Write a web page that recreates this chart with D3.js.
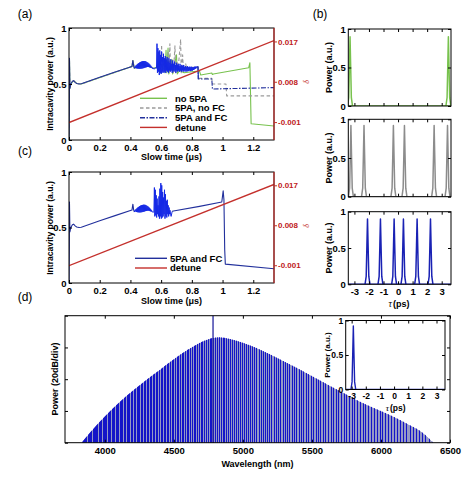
<!DOCTYPE html>
<html><head><meta charset="utf-8">
<script src="https://cdn.jsdelivr.net/npm/d3@7"></script>
<style>body{margin:0;background:#fff}</style>
</head><body><svg id="c" width="474" height="484"></svg>
<script>
// ---------------- data ----------------
const timeTicks=[0,0.2,0.4,0.6,0.8,1,1.2];
const powerTicks=[0,0.5,1];
const detuneTicks=[-0.001,0.008,0.017];
const detune=[[0,-0.0011],[1.335,0.0172]];
const legendA=["no 5PA","5PA, no FC","5PA and FC","detune"];
const legendC=["5PA and FC","detune"];

const fcEarly=[[0,0],[0.002,0.35],[0.003,0.73],[0.006,0.46],[0.012,0.5],[0.022,0.525],[0.03,0.53],[0.04,0.515],[0.05,0.505],[0.065,0.5],[0.08,0.502],[0.2,0.56],[0.3,0.607],[0.41,0.657],[0.416,0.71],[0.421,0.66],[0.426,0.64]];
const fcFish=[[0.430,0.655],[0.433,0.645],[0.436,0.665],[0.439,0.64],[0.442,0.672],[0.445,0.638],[0.448,0.68],[0.451,0.637],[0.454,0.686],[0.457,0.636],[0.460,0.692],[0.463,0.636],[0.466,0.697],[0.469,0.637],[0.472,0.70],[0.475,0.638],[0.478,0.703],[0.481,0.64],[0.484,0.705],[0.487,0.642],[0.490,0.705],[0.493,0.645],[0.496,0.704],[0.499,0.648],[0.502,0.70],[0.505,0.65],[0.508,0.695],[0.511,0.652],[0.514,0.69],[0.517,0.652],[0.520,0.683],[0.523,0.65],[0.526,0.675],[0.529,0.647],[0.532,0.665],[0.535,0.643],[0.538,0.655],[0.542,0.64],[0.548,0.638],[0.555,0.635],[0.562,0.64],[0.567,0.645]];
const fcChaosA=[[0.570,0.64],[0.573,0.86],[0.576,0.60],[0.579,0.82],[0.582,0.61],[0.585,0.79],[0.588,0.58],[0.591,0.80],[0.594,0.60],[0.597,0.76],[0.600,0.59],[0.603,0.79],[0.606,0.60],[0.609,0.74],[0.612,0.61],[0.615,0.77],[0.618,0.60],[0.621,0.73],[0.624,0.61],[0.627,0.75],[0.630,0.60],[0.633,0.72],[0.636,0.62],[0.639,0.74],[0.642,0.61],[0.645,0.70],[0.648,0.60],[0.651,0.73],[0.654,0.62],[0.657,0.69],[0.660,0.61],[0.663,0.72],[0.666,0.62],[0.669,0.68],[0.672,0.60],[0.675,0.71],[0.678,0.62],[0.681,0.68],[0.684,0.61],[0.687,0.70],[0.690,0.62],[0.693,0.67],[0.696,0.60],[0.699,0.69],[0.702,0.62],[0.705,0.67],[0.708,0.61],[0.711,0.68],[0.714,0.62],[0.717,0.66],[0.720,0.61],[0.723,0.68],[0.726,0.62],[0.729,0.66],[0.732,0.61],[0.735,0.67],[0.738,0.62],[0.741,0.66],[0.744,0.61],[0.747,0.67],[0.750,0.62],[0.753,0.65],[0.756,0.61],[0.759,0.66],[0.762,0.62],[0.765,0.65],[0.768,0.61],[0.771,0.66],[0.774,0.62],[0.777,0.65],[0.780,0.615],[0.783,0.655],[0.786,0.62],[0.789,0.65],[0.792,0.615],[0.795,0.655],[0.798,0.62],[0.801,0.65],[0.804,0.62],[0.807,0.65],[0.810,0.625],[0.813,0.65],[0.816,0.63],[0.819,0.655],[0.822,0.635],[0.825,0.655],[0.828,0.64],[0.831,0.655],[0.835,0.65],[0.840,0.655]];
const fcTailA=[[0.842,0.545],[0.93,0.545],[0.934,0.455],[1.335,0.468]];
const fcChaosC=[[0.553,0.64],[0.556,0.86],[0.559,0.60],[0.562,0.84],[0.565,0.61],[0.568,0.79],[0.571,0.59],[0.574,0.76],[0.577,0.62],[0.580,0.70],[0.583,0.60],[0.586,0.78],[0.589,0.58],[0.592,0.85],[0.595,0.60],[0.598,0.90],[0.601,0.58],[0.604,0.88],[0.607,0.59],[0.610,0.82],[0.613,0.60],[0.616,0.77],[0.619,0.62],[0.622,0.84],[0.625,0.58],[0.628,0.80],[0.631,0.60],[0.634,0.74],[0.637,0.59],[0.640,0.75],[0.643,0.62],[0.646,0.70],[0.649,0.60],[0.652,0.68],[0.655,0.62],[0.658,0.655],[0.661,0.62],[0.665,0.60],[0.672,0.645]];
const fcTailC=[[0.68,0.648],[0.85,0.69],[0.995,0.73],[1.004,0.83],[1.009,0.75],[1.014,0.3],[1.018,0.17],[1.335,0.128]];

const noFC=[[0,0],[0.003,0.73],[0.006,0.46],[0.012,0.5],[0.03,0.53],[0.05,0.505],[0.08,0.5],[0.41,0.657],[0.416,0.71],[0.426,0.64],[0.49,0.675],[0.55,0.64],[0.57,0.65],[0.595,0.70],[0.60,0.62],[0.603,0.85],[0.607,0.62],[0.63,0.70],[0.635,0.62],[0.645,0.78],[0.65,0.60],[0.657,0.86],[0.661,0.62],[0.675,0.72],[0.68,0.60],[0.69,0.84],[0.694,0.60],[0.705,0.70],[0.71,0.62],[0.727,0.90],[0.731,0.60],[0.74,0.76],[0.745,0.62],[0.76,0.68],[0.77,0.62],[0.80,0.65],[0.84,0.65],[0.845,0.55],[0.93,0.55],[0.935,0.50],[1.022,0.50],[1.027,0.394],[1.335,0.394]];
const noSPA=[[0,0],[0.003,0.73],[0.006,0.46],[0.012,0.5],[0.03,0.53],[0.05,0.505],[0.08,0.5],[0.41,0.657],[0.416,0.71],[0.426,0.64],[0.49,0.675],[0.55,0.64],[0.57,0.65],[0.60,0.60],[0.62,0.70],[0.625,0.60],[0.632,0.80],[0.637,0.60],[0.645,0.82],[0.65,0.59],[0.67,0.72],[0.675,0.59],[0.70,0.76],[0.705,0.59],[0.72,0.62],[0.75,0.60],[0.80,0.61],[0.85,0.615],[0.858,0.58],[0.93,0.598],[0.934,0.585],[0.94,0.59],[1.17,0.645],[1.178,0.69],[1.186,0.145],[1.335,0.125]];

const tauTicks=[-3,-2,-1,0,1,2,3];
const pulseOffset=[-0.17,-0.09,-0.04,0,0.04,0.09,0.17];
const pulseShape=[0,0.12,0.6,1,0.6,0.12,0];
const pulsesNoSPA=[-3.30,3.46], heightsNoSPA=[0.9,0.9];
const pulsesNoFC=[-3.24,-2.34,-0.32,0.44,2.48,3.40], heightsNoFC=[0.92,0.92,0.92,0.92,0.92,0.92];
const pulsesFC=[-2.10,-1.21,-0.27,0.37,1.31,2.23], heightsFC=[0.9,0.9,0.9,0.9,0.9,0.9];
const pulsesInset=[-2.88], heightsInset=[0.92];

const specTicks=[4000,4500,5000,5500,6000,6500];
const dbTicks=[-80,-60,-40,-20,0];
const specWavelength=[3832,3900,4000,4100,4200,4300,4400,4500,4600,4700,4780,4830,4900,5000,5100,5200,5300,5400,5500,5600,5700,5800,5900,6000,6100,6200,6300,6380];
const specDb=[-80,-73,-63.5,-55,-47.5,-40.5,-34,-27.5,-21.5,-16.5,-14,-13.5,-14.5,-17,-20.3,-24.5,-28.8,-33.3,-38,-42.7,-47.3,-52,-56.2,-60,-64,-68.5,-73.5,-80];
const pumpWavelength=4784;
const combSpacingTHz=0.175;

// ---------------- drawing ----------------
const FONT='"Liberation Sans", Arial, Helvetica, sans-serif';
const svg=d3.select("#c");
let clipN=0;
function clip(x,y){const id="cp"+(clipN++);const [x0,x1]=x.range(),[y0,y1]=y.range();
  svg.append("clipPath").attr("id",id).append("rect").attr("x",x0).attr("y",y1).attr("width",x1-x0).attr("height",y0-y1);
  return "url(#"+id+")";}
function axes(g,x,y,o){
  const [x0,x1]=x.range(),[y0,y1]=y.range(); const fs=o.fs||9.5;
  const f=d=>String(d), none=()=>"";
  g.append("g").attr("transform",`translate(0,${y0})`).call(d3.axisBottom(x).tickValues(o.xt).tickSizeInner(-3).tickSizeOuter(0).tickPadding(o.xpad||4.5).tickFormat(o.xl?f:none));
  g.append("g").attr("transform",`translate(0,${y1})`).call(d3.axisTop(x).tickValues(o.xt).tickSizeInner(-3).tickSizeOuter(0).tickFormat(none));
  g.append("g").attr("transform",`translate(${x0},0)`).call(d3.axisLeft(y).tickValues(o.yt).tickSizeInner(-3).tickSizeOuter(0).tickPadding(2.5).tickFormat(o.yl?f:none));
  if(!o.noRight) g.append("g").attr("transform",`translate(${x1},0)`).call(d3.axisRight(y).tickValues(o.yt).tickSizeInner(-3).tickSizeOuter(0).tickFormat(none));
  g.selectAll(".domain").remove();
  g.selectAll(".tick text").attr("font-family",FONT).attr("font-weight","bold").attr("font-size",fs).attr("fill","#000");
  g.selectAll(".tick line").attr("stroke","#000");
  g.append("rect").attr("x",x0).attr("y",y1).attr("width",x1-x0).attr("height",y0-y1).attr("fill","none").attr("stroke","#000").attr("stroke-width",1);
}
function txt(x,y,s,o={}){
  const t=svg.append("text").attr("x",x).attr("y",y).text(s).attr("font-family",o.family||FONT)
   .attr("font-size",o.fs||9).attr("font-weight",o.w||"bold").attr("fill",o.fill||"#000").attr("text-anchor",o.anchor||"middle");
  if(o.rot) t.attr("transform",`rotate(-90,${x},${y})`);
  if(o.italic) t.attr("font-style","italic");
  return t;}

// ---- time panels (a) and (c)
function timePanel(top,bottom,series,legend,legY,legX0,legX1,legTX){
  const x=d3.scaleLinear([0,1.335],[69,274]);
  const y=d3.scaleLinear([0,1],[bottom,top]);
  const yR=d3.scaleLinear([-0.005,0.02],[bottom,top]);
  const g=svg.append("g");
  const cp=clip(x,y);
  const pg=g.append("g").attr("clip-path",cp);
  const line=d3.line().x(d=>x(d[0])).y(d=>y(d[1]));
  series.forEach(s=>{
    const data=s.range?s.data.filter(d=>d[0]>=s.range[0]&&d[0]<=s.range[1]):s.data;
    pg.append("path").attr("d",line(data)).attr("fill","none").attr("stroke",s.color).attr("stroke-width",s.w||1.1)
      .attr("stroke-dasharray",s.dash||null).attr("stroke-linejoin","round");
  });
  pg.append("path").attr("d",d3.line().x(d=>x(d[0])).y(d=>yR(d[1]))(detune)).attr("fill","none").attr("stroke","#c4302c").attr("stroke-width",1.3);
  axes(g,x,y,{xt:timeTicks,yt:powerTicks,xl:true,yl:true,noRight:true});
  const ra=g.append("g").attr("transform",`translate(274,0)`).call(d3.axisRight(yR).tickValues(detuneTicks).tickSizeInner(3).tickSizeOuter(0).tickPadding(1).tickFormat(d=>d.toFixed(3)));
  ra.select(".domain").remove();
  ra.selectAll(".tick line").attr("stroke","#c4302c");
  ra.selectAll(".tick text").attr("font-family",FONT).attr("font-weight","bold").attr("font-size",8).attr("fill","#c0201c");
  g.append("line").attr("x1",274).attr("x2",274).attr("y1",top).attr("y2",bottom).attr("stroke","#c4302c").attr("stroke-width",1.2);
  legend.forEach((l,i)=>{
    const yy=legY+i*9.7;
    g.append("line").attr("x1",legX0).attr("x2",legX1).attr("y1",yy).attr("y2",yy).attr("stroke",l.color).attr("stroke-width",1.4).attr("stroke-dasharray",l.dash||null);
    g.append("text").attr("x",legTX).attr("y",yy+3.4).text(l.label).attr("font-family",FONT).attr("font-weight","bold").attr("font-size",9.5);
  });
  return {x,y};
}
const NAVY="#22309c", BRIGHT="#1428e6", GREEN="#78c24e", GRAY="#9a9a9a", RED="#c4302c";
const fcA=[...fcEarly,...fcFish,...fcChaosA,...fcTailA];
timePanel(28,140,[
  {data:noSPA,color:GREEN},
  {data:noFC,color:GRAY,dash:"3.5,2.5"},
  {data:fcA,color:NAVY,range:[0,0.426]},
  {data:fcA,color:BRIGHT,range:[0.426,0.842],w:1},
  {data:fcA,color:NAVY,range:[0.835,1.4],dash:"5,1.5,1.5,1.5"}
],[{label:legendA[0],color:GREEN},{label:legendA[1],color:GRAY,dash:"3.5,2.5"},{label:legendA[2],color:NAVY,dash:"5,1.5,1.5,1.5"},{label:legendA[3],color:RED}],98.3,140,167,175);
const fcC=[...fcEarly,...fcFish.filter(d=>d[0]<0.55),...fcChaosC,...fcTailC];
timePanel(172,283,[
  {data:fcC,color:NAVY,range:[0,0.426]},
  {data:fcC,color:BRIGHT,range:[0.426,0.672],w:1},
  {data:fcC,color:NAVY,range:[0.672,1.4]}
],[{label:legendC[0],color:NAVY},{label:legendC[1],color:RED}],258.3,135,167,170);

[[84,160],[228,304]].forEach(([cy,lb])=>{
  txt(53,cy,"Intracavity power (a.u.)",{rot:true,fs:8.6});
  txt(171.5,lb,"Slow time (μs)",{fs:9});
  txt(309,cy-2,"δ",{rot:true,fs:8,w:"normal",fill:RED,italic:true,family:'"Liberation Serif",serif'});
});
txt(25,18,"(a)",{fs:12,w:"normal"});
txt(25,155,"(c)",{fs:12,w:"normal"});
txt(25,301,"(d)",{fs:12,w:"normal"});
txt(320,18,"(b)",{fs:12,w:"normal"});

// ---- (b) pulse panels
function pulsePanel(x,y,centers,heights,color,w,g){
  const cp=clip(x,y);
  const pg=g.append("g").attr("clip-path",cp);
  const line=d3.line().x(d=>x(d[0])).y(d=>y(d[1]));
  pg.append("path").attr("d",line([[x.domain()[0],0],[x.domain()[1],0]])).attr("stroke",color).attr("stroke-width",w).attr("fill","none");
  centers.forEach((c,i)=>{
    const pts=pulseOffset.map((o,k)=>[c+o,heights[i]*pulseShape[k]]);
    pg.append("path").attr("d",line(pts)).attr("stroke",color).attr("stroke-width",w).attr("fill","none").attr("stroke-linejoin","round");
  });
}
const xb=d3.scaleLinear([-3.42,3.64],[348.3,451]);
[[29,106,pulsesNoSPA,heightsNoSPA,GREEN,false],[119.3,196.7,pulsesNoFC,heightsNoFC,"#8c8c8c",false],[211.7,284.3,pulsesFC,heightsFC,"#1a22b4",true]].forEach(([t,b,c,h,col,lab])=>{
  const y=d3.scaleLinear([0,1],[b,t]);
  const g=svg.append("g");
  pulsePanel(xb,y,c,h,col,1.5,g);
  axes(g,xb,y,{xt:tauTicks,yt:powerTicks,xl:lab,yl:true,fs:9.5,xpad:4});
  txt(332,(t+b)/2,"Power (a.u.)",{rot:true,fs:9});
});
txt(392,307,"τ",{fs:9.5,w:"normal",italic:true,family:'"Liberation Serif",serif',anchor:"end"});
txt(393,307,"(ps)",{fs:9,anchor:"start"});

// ---- (d) spectrum
const xs=d3.scaleLinear([3712,6500],[65,450]);
const ys=d3.scaleLinear([-80,0],[442.7,315.7]);
const gd=svg.append("g");
const env=specWavelength.map((l,i)=>[l,specDb[i]]);
const area=d3.area().x(d=>xs(d[0])).y0(ys(-80)).y1(d=>ys(d[1])).curve(d3.curveMonotoneX);
svg.append("clipPath").attr("id","envClip").append("path").attr("d",area(env));
const sg=gd.append("g").attr("clip-path","url(#envClip)");
sg.append("path").attr("d",area(env)).attr("fill","#9498c6");
const C=299792.458;
const combNu=d3.range(Math.ceil(C/6500/combSpacingTHz)*combSpacingTHz, C/3712, combSpacingTHz);
sg.selectAll("line.comb").data(combNu).enter().append("line")
  .attr("x1",d=>Math.round(xs(C/d))+0.5).attr("x2",d=>Math.round(xs(C/d))+0.5)
  .attr("y1",ys(-80)).attr("y2",ys(0)).attr("stroke","#1414c8").attr("stroke-width",1);
gd.append("line").attr("x1",xs(pumpWavelength)).attr("x2",xs(pumpWavelength)).attr("y1",ys(-80)).attr("y2",ys(0)).attr("stroke","#2626a0").attr("stroke-width",1.3);
axes(gd,xs,ys,{xt:specTicks,yt:dbTicks,xl:true,yl:false,xpad:4.5});
txt(58,379,"Power (20dB/div)",{rot:true,fs:9});
txt(257.5,467,"Wavelength (nm)",{fs:9});
// inset
const xi=d3.scaleLinear([-3.42,3.6],[345.7,445]);
const yi=d3.scaleLinear([0,1],[389.5,320.5]);
const gi=svg.append("g");
gi.append("rect").attr("x",345.7).attr("y",320.5).attr("width",99.3).attr("height",69).attr("fill","#fff");
pulsePanel(xi,yi,pulsesInset,heightsInset,"#1a22b4",1.4,gi);
axes(gi,xi,yi,{xt:tauTicks,yt:powerTicks,xl:true,yl:true,fs:8.5,xpad:3.5});
txt(330,355,"Power (a.u.)",{rot:true,fs:8});
txt(389,411,"τ",{fs:9,w:"normal",italic:true,family:'"Liberation Serif",serif',anchor:"end"});
txt(390,411,"(ps)",{fs:8.5,anchor:"start"});
</script></body></html>
